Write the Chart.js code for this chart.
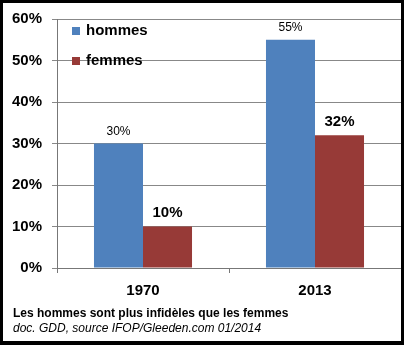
<!DOCTYPE html>
<html>
<head>
<meta charset="utf-8">
<script src="https://cdn.jsdelivr.net/npm/chart.js@4/dist/chart.umd.min.js"></script>
<style>
  body { margin: 0; background: #fff; }
  #wrap { position: relative; width: 404px; height: 345px; }
  #chart { position: absolute; left: 0; top: 0; }
  .cap { position: absolute; left: 13px; font-family: "Liberation Sans", Arial, sans-serif; font-size: 12px; color: #000; white-space: nowrap; }
  #cap1 { top: 306px; font-weight: bold; }
  #cap2 { top: 321px; font-style: italic; }
</style>
</head>
<body>
<div id="wrap">
  <canvas id="chart" width="404" height="345"></canvas>
  <div class="cap" id="cap1">Les hommes sont plus infidèles que les femmes</div>
  <div class="cap" id="cap2">doc. GDD, source IFOP/Gleeden.com 01/2014</div>
</div>
<script>
var years = ["1970", "2013"];
var hommes = [30, 55];
var femmes = [10, 32];
var yTicks = [0, 10, 20, 30, 40, 50, 60];

var FONT = '"Liberation Sans", Arial, sans-serif';

// value labels above each bar
var valueLabels = {
  id: 'valueLabels',
  afterDatasetsDraw: function (chart) {
    var ctx = chart.ctx;
    ctx.save();
    ctx.fillStyle = '#000';
    ctx.textAlign = 'center';
    ctx.textBaseline = 'bottom';
    chart.data.datasets.forEach(function (ds, i) {
      var meta = chart.getDatasetMeta(i);
      ctx.font = ds.labelFont;
      meta.data.forEach(function (bar, j) {
        ctx.fillText(ds.data[j] + '%', bar.x, bar.y - ds.labelGap);
      });
    });
    ctx.restore();
  }
};

// legend inside the plot, top left
var innerLegend = {
  id: 'innerLegend',
  afterDraw: function (chart) {
    var ctx = chart.ctx;
    var a = chart.chartArea;
    ctx.save();
    ctx.font = 'bold 15px ' + FONT;
    ctx.textBaseline = 'middle';
    chart.data.datasets.forEach(function (ds, i) {
      var y = a.top + 12 + i * 30;
      ctx.fillStyle = ds.backgroundColor;
      ctx.fillRect(a.left + 15, y - 4, 8, 8);
      ctx.fillStyle = '#000';
      ctx.fillText(ds.label, a.left + 29, y);
    });
    ctx.restore();
  }
};

var frame = {
  id: 'frame',
  afterDraw: function (chart) {
    var ctx = chart.ctx;
    ctx.save();
    ctx.fillStyle = '#000';
    ctx.fillRect(0, 0, 404, 3);
    ctx.fillRect(0, 0, 3, 345);
    ctx.fillRect(401, 0, 3, 345);
    ctx.fillRect(0, 341, 404, 4);
    ctx.restore();
  }
};

var ctxB = document.getElementById('chart').getContext('2d');
var myBarChart = new Chart(ctxB, {
  type: 'bar',
  data: {
    labels: years,
    datasets: [{
      label: 'hommes',
      data: hommes,
      backgroundColor: '#4F81BD',
      labelFont: '12px ' + FONT,
      labelGap: 6
    }, {
      label: 'femmes',
      data: femmes,
      backgroundColor: '#973A37',
      labelFont: 'bold 15px ' + FONT,
      labelGap: 6
    }]
  },
  options: {
    responsive: false,
    animation: false,
    categoryPercentage: 0.57,
    barPercentage: 1,
    layout: { padding: { top: 17, right: 3, left: 0, bottom: 0 } },
    plugins: { legend: { display: false }, tooltip: { enabled: false } },
    scales: {
      x: {
        grid: { drawOnChartArea: false, color: '#777', tickLength: 5 },
        border: { color: '#777' },
        ticks: { color: '#000', font: { family: FONT, size: 15, weight: 'bold' }, padding: 9 },
        afterFit: function (s) { s.height = 77; }
      },
      y: {
        min: 0,
        max: 60,
        afterBuildTicks: function (s) { s.ticks = yTicks.map(function (v) { return { value: v }; }); },
        grid: { color: '#888', tickLength: 5 },
        border: { color: '#777' },
        ticks: {
          color: '#000',
          font: { family: FONT, size: 15, weight: 'bold' },
          padding: 10,
          callback: function (v) { return v + '%'; }
        },
        afterFit: function (s) { s.width = 57; }
      }
    }
  },
  plugins: [valueLabels, innerLegend, frame]
});
</script>
</body>
</html>
